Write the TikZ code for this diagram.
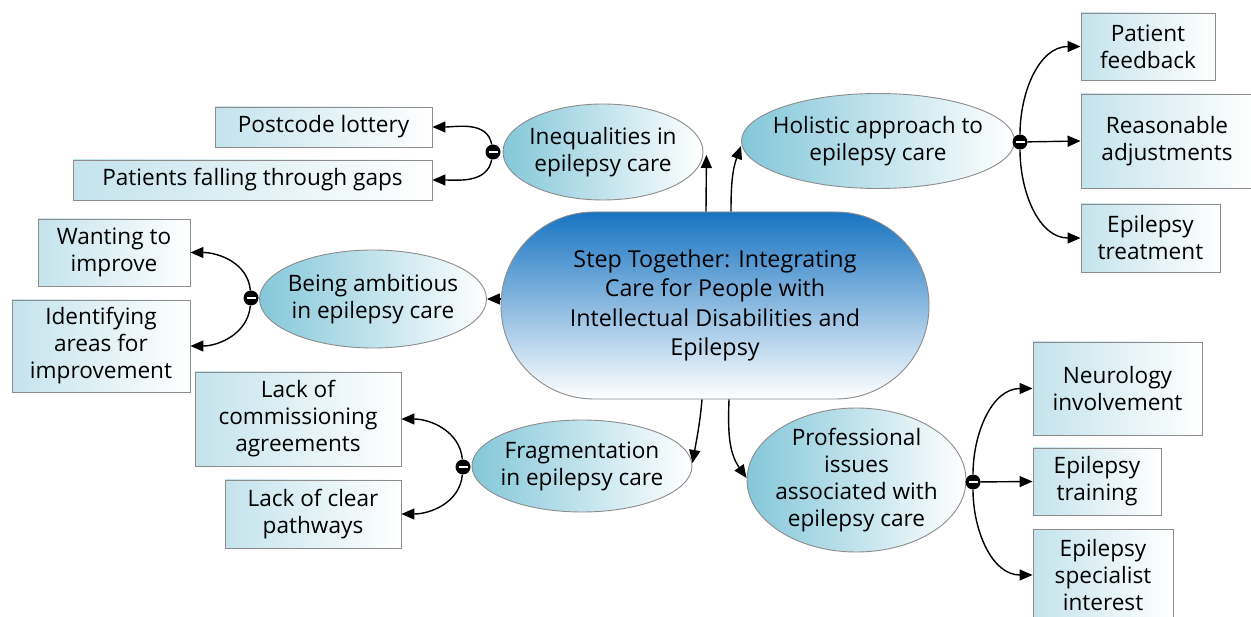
\documentclass[tikz,border=0pt]{standalone}
\usepackage{fontspec}
\setmainfont{Open Sans}
\usetikzlibrary{shapes.geometric,arrows.meta}
\definecolor{ellc}{RGB}{132,199,217}
\definecolor{boxc}{RGB}{196,227,236}
\definecolor{mainc}{RGB}{24,116,193}
\definecolor{bordc}{RGB}{140,140,140}
\tikzset{
  oval/.style={ellipse, draw=bordc, line width=0.9pt, left color=ellc, right color=white, inner xsep=-45pt, inner ysep=-25pt, align=center},
  leaf/.style={rectangle, draw=bordc, line width=0.9pt, left color=boxc, right color=white, inner sep=0pt, align=center},
  central/.style={rectangle, rounded corners=93pt, draw=bordc, line width=0.9pt, top color=mainc, bottom color=white, inner sep=0pt, align=center, minimum width=428pt, minimum height=187pt, font=\fontsize{23.3}{29.5}\selectfont},
  knot/.style={circle, fill=black, inner sep=0pt, minimum size=15pt, path picture={\draw[white, line width=2pt] ([xshift=-4.5pt]path picture bounding box.center) -- ([xshift=4.5pt]path picture bounding box.center);}},
  arr/.style={-{Triangle[length=13pt,width=11pt]}, line width=1.4pt, black},
}
\begin{document}
\begin{tikzpicture}[x=1pt,y=1pt, font=\fontsize{22.6}{27}\selectfont]
\useasboundingbox (0,0) rectangle (1251,-617);
\fill[white] (0,0) rectangle (1251,-617);

% central
\node[central] (c) at (715,-305.5) {Step Together: Integrating\\Care for People with\\Intellectual Disabilities and\\Epilepsy};

% ovals
\node[oval, minimum width=200pt, minimum height=96pt] (ineq) at (603,-152) {Inequalities in\\epilepsy care};
\node[oval, minimum width=273pt, minimum height=95pt] (hol) at (878,-141) {Holistic approach to\\epilepsy care};
\node[oval, minimum width=227pt, minimum height=98pt] (amb) at (373,-299) {Being ambitious\\in epilepsy care};
\node[oval, minimum width=220pt, minimum height=92pt] (frag) at (582,-466) {Fragmentation\\in epilepsy care};
\node[oval, minimum width=219pt, minimum height=144pt] (prof) at (856.5,-480) {Professional\\issues\\associated with\\epilepsy care};

% leaves
\node[leaf, minimum width=217pt, minimum height=40pt] (post) at (323.5,-127) {Postcode lottery};
\node[leaf, minimum width=359pt, minimum height=40pt] (gaps) at (252.5,-180) {Patients falling through gaps};
\node[leaf, minimum width=152pt, minimum height=67pt] (want) at (114,-252.5) {Wanting to\\improve};
\node[leaf, minimum width=178pt, minimum height=92pt] (ident) at (101,-346) {Identifying\\areas for\\improvement};
\node[leaf, minimum width=206pt, minimum height=94pt] (comm) at (298,-419) {Lack of\\commissioning\\agreements};
\node[leaf, minimum width=176pt, minimum height=68pt] (path) at (313,-514) {Lack of clear\\pathways};
\node[leaf, minimum width=134pt, minimum height=67pt] (feed) at (1148,-46.5) {Patient\\feedback};
\node[leaf, minimum width=172pt, minimum height=94pt] (adj) at (1167,-141) {Reasonable\\adjustments};
\node[leaf, minimum width=139pt, minimum height=68pt] (treat) at (1150.5,-238) {Epilepsy\\treatment};
\node[leaf, minimum width=169pt, minimum height=93pt] (neuro) at (1117.5,-388.5) {Neurology\\involvement};
\node[leaf, minimum width=128pt, minimum height=67pt] (train) at (1097,-481.5) {Epilepsy\\training};
\node[leaf, minimum width=140pt, minimum height=92pt] (spec) at (1103,-575) {Epilepsy\\specialist\\interest};

% knots
\node[knot] (k1) at (493,-152) {};
\node[knot] (k2) at (1020,-142) {};
\node[knot] (k3) at (251,-298) {};
\node[knot] (k4) at (463,-467) {};
\node[knot] (k5) at (973,-482) {};

% branches
\draw[arr] (k1) to[out=100,in=0] (post.east);
\draw[arr] (k1) to[out=-100,in=0] (gaps.east);
\draw[arr] (k2) to[out=90,in=180] (feed.west);
\draw[arr] (k2) -- (adj.west);
\draw[arr] (k2) to[out=-90,in=180] (treat.west);
\draw[arr] (k3) to[out=95,in=0] (want.east);
\draw[arr] (k3) to[out=-95,in=0] (ident.east);
\draw[arr] (k4) to[out=95,in=0] (comm.east);
\draw[arr] (k4) to[out=-95,in=0] (path.east);
\draw[arr] (k5) to[out=90,in=180] (neuro.west);
\draw[arr] (k5) -- (train.west);
\draw[arr] (k5) to[out=-90,in=180] (spec.west);

% central connectors
\coordinate (s1) at ([xshift=-9pt]c.north);
\coordinate (s2) at ([xshift=16pt]c.north);
\coordinate (s3) at ([xshift=-13pt]c.south);
\coordinate (s4) at ([xshift=14pt]c.south);
\draw[arr] (s1) -- ([xshift=3pt,yshift=-3pt]ineq.east);
\draw[arr] (s2) to[out=90,in=250] ([yshift=-5pt]hol.west);
\draw[arr] (c.west |- amb.east) -- (amb.east);
\draw[arr] (s3) to[out=-95,in=80] ([yshift=3pt]frag.east);
\draw[arr] (s4) to[out=-92,in=125] ([yshift=2pt]prof.west);
\end{tikzpicture}
\end{document}
